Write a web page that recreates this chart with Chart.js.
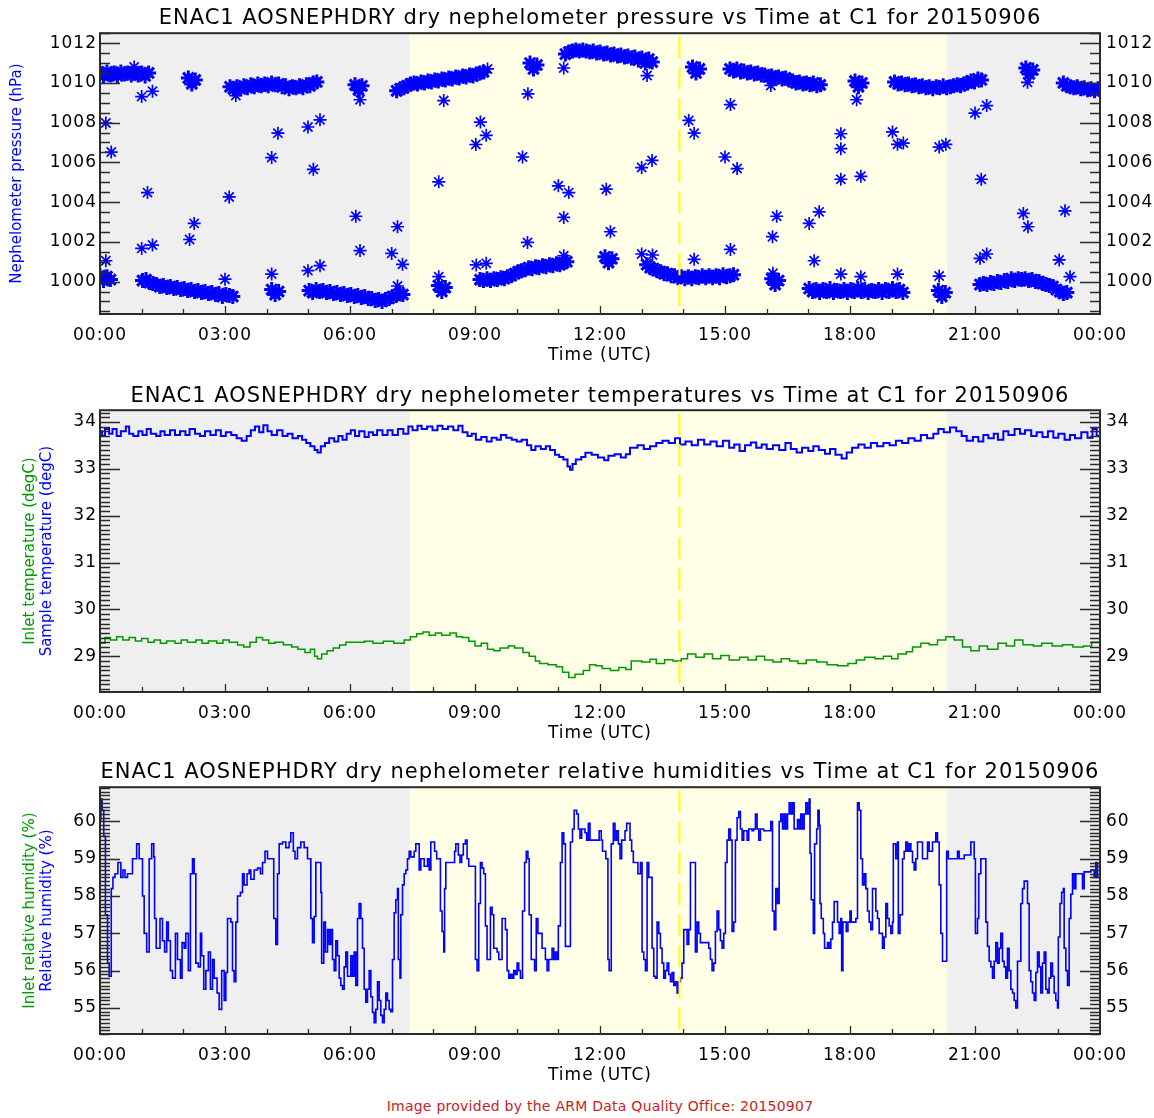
<!DOCTYPE html>
<html>
<head>
<meta charset="utf-8">
<script src="https://cdn.jsdelivr.net/npm/chart.js@4.4.1/dist/chart.umd.min.js"></script>
<style>
  body { margin: 0; background: #fff; width: 1154px; height: 1118px; position: relative; overflow: hidden; }
  canvas { position: absolute; left: 0; }
  #footer { position: absolute; left: 100px; width: 1000px; top: 1098px; text-align: center; letter-spacing: 0.25px;
            font: 14px 'DejaVu Sans', sans-serif; color: #c82222; }
</style>
</head>
<body>
<canvas id="pressChart" width="1154" height="372" style="top:0px"></canvas>
<canvas id="tempChart" width="1154" height="373" style="top:377px"></canvas>
<canvas id="rhChart" width="1154" height="338" style="top:754px"></canvas>
<div id="footer">Image provided by the ARM Data Quality Office: 20150907</div>
<script>
const FONT = "'DejaVu Sans', sans-serif";

// shading: night (grey) / daylight (yellow), dashed line at local solar noon
const sunrise = 7.43, sunset = 20.33, solarNoon = 13.9;
const timeTickLabels = ['00:00', '03:00', '06:00', '09:00', '12:00', '15:00', '18:00', '21:00', '00:00'];

// ---- nephelometer pressure (hPa), 5-minute samples in runs ----
const SAMPLE_STEP = 5 / 60;
const upperStarts = [0.00, 2.12, 3.12, 6.12, 7.12, 10.32, 11.17, 14.22, 15.12, 18.12, 19.07, 22.22, 23.12];
const upperRuns = [
  [1010.5, 1010.35, 1010.55, 1010.4, 1010.5, 1010.35, 1010.55, 1010.45, 1010.5, 1010.4, 1010.55, 1010.4, 1010.5, 1010.35, 1010.5],
  [1010.25, 1009.95, 1010.15],
  [1009.8, 1009.7, 1009.8, 1009.7, 1009.85, 1009.75, 1009.9, 1009.8, 1009.95, 1009.85, 1009.95, 1009.85, 1010.0, 1009.9, 1009.95, 1009.8, 1009.85, 1009.7, 1009.8, 1009.75, 1009.85, 1009.75, 1009.9, 1009.85, 1010.0, 1010.05],
  [1009.9, 1009.65, 1009.85],
  [1009.6, 1009.7, 1009.75, 1009.85, 1009.95, 1010.0, 1009.95, 1010.05, 1010.0, 1010.1, 1010.05, 1010.15, 1010.1, 1010.2, 1010.15, 1010.25, 1010.2, 1010.3, 1010.25, 1010.35, 1010.3, 1010.4, 1010.35, 1010.45, 1010.5, 1010.55],
  [1011.0, 1010.7, 1010.9],
  [1011.45, 1011.55, 1011.6, 1011.65, 1011.6, 1011.65, 1011.6, 1011.55, 1011.6, 1011.5, 1011.55, 1011.45, 1011.5, 1011.4, 1011.45, 1011.35, 1011.4, 1011.3, 1011.35, 1011.25, 1011.3, 1011.15, 1011.25, 1011.0, 1011.2, 1011.05],
  [1010.8, 1010.5, 1010.7],
  [1010.7, 1010.6, 1010.7, 1010.55, 1010.6, 1010.5, 1010.55, 1010.45, 1010.5, 1010.4, 1010.4, 1010.3, 1010.35, 1010.25, 1010.3, 1010.2, 1010.25, 1010.15, 1010.1, 1010.0, 1010.05, 1009.95, 1010.0, 1009.9, 1010.0, 1009.85, 1009.9],
  [1010.1, 1009.8, 1010.0],
  [1010.05, 1009.95, 1010.0, 1009.9, 1009.95, 1009.85, 1009.9, 1009.8, 1009.85, 1009.75, 1009.8, 1009.7, 1009.8, 1009.75, 1009.85, 1009.75, 1009.8, 1009.85, 1009.9, 1009.85, 1009.95, 1010.0, 1010.1, 1010.05, 1010.2, 1010.15],
  [1010.75, 1010.45, 1010.65],
  [1010.0, 1009.85, 1009.8, 1009.75, 1009.8, 1009.7, 1009.75, 1009.65, 1009.7, 1009.6, 1009.7, 1009.65]
];
const lowerStarts = [0.00, 1.02, 4.12, 5.02, 8.12, 9.12, 12.12, 13.12, 16.12, 17.02, 20.12, 21.12];
const lowerRuns = [
  [1000.3, 1000.05, 1000.25, 1000.1],
  [1000.05, 1000.1, 999.95, 999.9, 999.85, 999.75, 999.8, 999.7, 999.75, 999.65, 999.7, 999.6, 999.65, 999.55, 999.6, 999.5, 999.55, 999.45, 999.5, 999.4, 999.45, 999.35, 999.4, 999.25, 999.35, 999.3, 999.25],
  [999.6, 999.35, 999.5],
  [999.55, 999.45, 999.6, 999.5, 999.55, 999.45, 999.5, 999.4, 999.45, 999.35, 999.4, 999.3, 999.35, 999.25, 999.3, 999.2, 999.25, 999.15, 999.15, 999.05, 999.1, 999.0, 999.1, 999.15, 999.25, 999.3, 999.4, 999.35],
  [999.8, 999.5, 999.7],
  [1000.1, 1000.05, 1000.15, 1000.05, 1000.15, 1000.1, 1000.2, 1000.15, 1000.25, 1000.3, 1000.4, 1000.5, 1000.55, 1000.6, 1000.7, 1000.65, 1000.75, 1000.7, 1000.8, 1000.75, 1000.85, 1000.8, 1000.9, 1000.85, 1000.95, 1001.0],
  [1001.25, 1000.95, 1001.15],
  [1000.85, 1000.7, 1000.65, 1000.55, 1000.5, 1000.4, 1000.4, 1000.3, 1000.3, 1000.2, 1000.25, 1000.15, 1000.25, 1000.15, 1000.25, 1000.2, 1000.3, 1000.2, 1000.3, 1000.2, 1000.3, 1000.2, 1000.35, 1000.25, 1000.3, 1000.35],
  [1000.15, 999.85, 1000.05],
  [999.65, 999.5, 999.6, 999.45, 999.6, 999.5, 999.65, 999.45, 999.55, 999.5, 999.6, 999.45, 999.6, 999.5, 999.65, 999.5, 999.6, 999.45, 999.55, 999.5, 999.6, 999.45, 999.6, 999.5, 999.65, 999.5, 999.6, 999.45],
  [999.55, 999.25, 999.45],
  [999.85, 999.9, 999.85, 999.95, 999.9, 1000.0, 999.95, 1000.05, 1000.0, 1000.15, 1000.05, 1000.15, 1000.1, 1000.15, 1000.05, 1000.1, 1000.0, 1000.0, 999.9, 999.85, 999.8, 999.75, 999.6, 999.5, 999.4, 999.45]
];
// isolated readings between the two levels [hour, hPa]
const pressureSpikes = [
  [0.14, 1007.98], [0.27, 1006.52], [0.14, 1001.05], [0.82, 1010.8], [1.0, 1009.31], [1.26, 1009.58], [1.14, 1004.48],
  [1.0, 1001.67], [1.26, 1001.84], [2.15, 1002.12], [2.26, 1002.93], [3.1, 1004.26], [3.26, 1009.36], [3.0, 1000.12],
  [4.12, 1006.24], [4.27, 1007.47], [4.12, 1000.38], [4.99, 1007.78], [5.28, 1008.14], [5.12, 1005.65], [4.99, 1000.55],
  [5.28, 1000.8], [6.14, 1003.29], [6.24, 1001.56], [6.24, 1009.15], [7.0, 1001.42], [7.14, 1002.76], [7.26, 1000.87],
  [7.14, 999.78], [8.13, 1005.02], [8.13, 1000.25], [8.25, 1009.11], [9.13, 1008.03], [9.27, 1007.36], [9.02, 1006.9],
  [9.03, 1000.84], [9.27, 1000.92], [9.3, 1010.7], [10.27, 1009.45], [10.14, 1006.27], [10.26, 1001.97], [11.13, 1010.75],
  [11.0, 1004.82], [11.25, 1004.48], [11.13, 1003.23], [11.13, 1001.3], [12.15, 1004.65], [12.25, 1002.51], [13.13, 1010.37],
  [13.0, 1005.74], [13.25, 1006.1], [13.0, 1001.39], [13.26, 1001.34], [14.13, 1008.11], [14.26, 1007.47], [14.26, 1001.12],
  [15.13, 1008.91], [15.0, 1006.27], [15.29, 1005.69], [15.13, 1001.62], [16.1, 1009.87], [16.24, 1003.29], [16.14, 1002.26],
  [16.15, 1000.42], [17.14, 1001.05], [17.02, 1002.93], [17.26, 1003.51], [17.78, 1007.44], [17.78, 1006.69], [17.78, 1005.15],
  [17.78, 1000.38], [18.26, 1005.3], [18.26, 1000.25], [18.16, 1009.15], [19.02, 1007.53], [19.14, 1006.91], [19.28, 1006.97],
  [19.14, 1000.38], [20.14, 1006.77], [20.3, 1006.91], [20.14, 1000.28], [21.0, 1008.48], [21.28, 1008.86], [21.15, 1005.15],
  [21.12, 1001.17], [21.28, 1001.39], [22.16, 1003.43], [22.27, 1002.76], [22.26, 1010.03], [23.02, 1001.09], [23.16, 1003.56],
  [23.28, 1000.25]
];

// ---- temperatures (degC), [hour, value] step points ----
const sampleTemp = [
  [0.00, 33.80], [0.05, 33.70], [0.12, 33.85], [0.22, 33.75], [0.30, 33.85], [0.40, 33.70], [0.50, 33.80], [0.62, 33.90], [0.70, 33.75],
  [0.80, 33.70], [0.92, 33.80], [1.02, 33.72], [1.12, 33.85], [1.22, 33.75], [1.35, 33.70], [1.45, 33.80], [1.55, 33.72], [1.68, 33.82],
  [1.80, 33.72], [1.92, 33.80], [2.05, 33.72], [2.15, 33.85], [2.28, 33.75], [2.40, 33.70], [2.52, 33.80], [2.65, 33.72], [2.78, 33.82],
  [2.90, 33.70], [3.02, 33.78], [3.15, 33.72], [3.28, 33.65], [3.40, 33.60], [3.52, 33.70], [3.62, 33.82], [3.72, 33.90], [3.82, 33.78],
  [3.92, 33.93], [4.02, 33.80], [4.12, 33.72], [4.25, 33.82], [4.38, 33.70], [4.50, 33.75], [4.62, 33.65], [4.75, 33.70], [4.85, 33.62],
  [4.95, 33.55], [5.05, 33.48], [5.15, 33.40], [5.22, 33.35], [5.30, 33.48], [5.40, 33.55], [5.50, 33.65], [5.62, 33.58], [5.72, 33.70],
  [5.82, 33.62], [5.92, 33.75], [6.02, 33.82], [6.12, 33.70], [6.22, 33.80], [6.35, 33.68], [6.45, 33.78], [6.55, 33.72], [6.65, 33.82],
  [6.78, 33.72], [6.90, 33.82], [7.02, 33.72], [7.15, 33.85], [7.28, 33.75], [7.40, 33.90], [7.50, 33.82], [7.62, 33.92], [7.72, 33.85],
  [7.85, 33.90], [7.98, 33.82], [8.10, 33.92], [8.22, 33.85], [8.35, 33.90], [8.48, 33.82], [8.60, 33.92], [8.70, 33.78], [8.82, 33.70],
  [8.92, 33.75], [9.02, 33.62], [9.15, 33.68], [9.28, 33.58], [9.40, 33.66], [9.52, 33.62], [9.62, 33.72], [9.75, 33.66], [9.88, 33.62],
  [10.00, 33.58], [10.12, 33.62], [10.25, 33.50], [10.35, 33.40], [10.45, 33.48], [10.58, 33.42], [10.70, 33.48], [10.80, 33.40],
  [10.92, 33.30], [11.02, 33.25], [11.12, 33.20], [11.22, 33.05], [11.28, 32.98], [11.34, 33.10], [11.42, 33.20], [11.55, 33.25],
  [11.65, 33.34], [11.80, 33.30], [11.95, 33.24], [12.10, 33.18], [12.20, 33.28], [12.35, 33.31], [12.50, 33.24], [12.62, 33.31],
  [12.72, 33.45], [12.90, 33.50], [13.05, 33.42], [13.20, 33.48], [13.35, 33.55], [13.50, 33.60], [13.65, 33.55], [13.80, 33.65],
  [13.92, 33.52], [14.05, 33.58], [14.20, 33.50], [14.35, 33.62], [14.50, 33.52], [14.65, 33.58], [14.80, 33.48], [14.95, 33.60],
  [15.10, 33.45], [15.22, 33.52], [15.35, 33.38], [15.48, 33.50], [15.62, 33.56], [15.75, 33.45], [15.88, 33.52], [16.00, 33.42],
  [16.15, 33.50], [16.30, 33.40], [16.45, 33.55], [16.58, 33.42], [16.72, 33.35], [16.85, 33.45], [17.00, 33.38], [17.12, 33.48],
  [17.25, 33.40], [17.40, 33.32], [17.52, 33.42], [17.65, 33.30], [17.80, 33.22], [17.92, 33.35], [18.05, 33.45], [18.20, 33.52],
  [18.35, 33.45], [18.50, 33.55], [18.65, 33.48], [18.80, 33.55], [18.95, 33.50], [19.10, 33.60], [19.25, 33.55], [19.40, 33.65],
  [19.55, 33.60], [19.70, 33.72], [19.85, 33.65], [20.00, 33.75], [20.12, 33.85], [20.25, 33.78], [20.40, 33.88], [20.55, 33.80],
  [20.68, 33.70], [20.80, 33.60], [20.95, 33.68], [21.08, 33.58], [21.20, 33.72], [21.32, 33.65], [21.45, 33.75], [21.55, 33.62],
  [21.68, 33.80], [21.80, 33.72], [21.95, 33.85], [22.08, 33.75], [22.20, 33.82], [22.35, 33.70], [22.48, 33.78], [22.62, 33.68],
  [22.75, 33.80], [22.88, 33.66], [23.00, 33.75], [23.15, 33.62], [23.28, 33.72], [23.40, 33.65], [23.55, 33.78], [23.70, 33.66],
  [23.82, 33.85], [23.92, 33.70], [24.00, 33.72]
];
const inletTemp = [
  [0.00, 29.28], [0.12, 29.40], [0.25, 29.35], [0.40, 29.42], [0.55, 29.35], [0.70, 29.40], [0.85, 29.33], [1.00, 29.38], [1.15, 29.30],
  [1.30, 29.35], [1.45, 29.28], [1.60, 29.33], [1.80, 29.28], [1.95, 29.35], [2.10, 29.30], [2.30, 29.35], [2.45, 29.28], [2.60, 29.33],
  [2.80, 29.28], [2.95, 29.35], [3.10, 29.30], [3.30, 29.24], [3.45, 29.20], [3.60, 29.30], [3.75, 29.40], [3.90, 29.35], [4.05, 29.28],
  [4.20, 29.30], [4.40, 29.25], [4.60, 29.20], [4.75, 29.15], [4.92, 29.08], [5.05, 29.15], [5.15, 29.00], [5.22, 28.95], [5.32, 29.05],
  [5.45, 29.12], [5.60, 29.18], [5.75, 29.24], [5.90, 29.30], [6.10, 29.30], [6.35, 29.32], [6.55, 29.28], [6.80, 29.32], [7.05, 29.28],
  [7.30, 29.35], [7.45, 29.42], [7.60, 29.48], [7.75, 29.52], [7.90, 29.45], [8.05, 29.50], [8.20, 29.45], [8.40, 29.50], [8.55, 29.42],
  [8.70, 29.40], [8.85, 29.32], [9.00, 29.22], [9.15, 29.28], [9.30, 29.15], [9.45, 29.12], [9.60, 29.18], [9.80, 29.22], [9.95, 29.18],
  [10.15, 29.08], [10.30, 29.00], [10.45, 28.90], [10.55, 28.85], [10.75, 28.82], [10.95, 28.78], [11.10, 28.66], [11.25, 28.55],
  [11.40, 28.62], [11.60, 28.70], [11.75, 28.82], [11.90, 28.80], [12.05, 28.74], [12.25, 28.70], [12.45, 28.76], [12.62, 28.72],
  [12.75, 28.90], [13.00, 28.88], [13.20, 28.94], [13.35, 28.85], [13.55, 28.93], [13.75, 28.90], [13.95, 28.95], [14.10, 29.05],
  [14.30, 28.98], [14.50, 29.05], [14.70, 28.95], [14.90, 29.02], [15.10, 28.92], [15.35, 28.98], [15.55, 28.92], [15.75, 29.00],
  [15.95, 28.92], [16.15, 28.88], [16.35, 28.95], [16.55, 28.90], [16.75, 28.85], [16.95, 28.92], [17.20, 28.88], [17.45, 28.82],
  [17.70, 28.80], [17.95, 28.85], [18.15, 28.92], [18.35, 28.98], [18.60, 28.95], [18.80, 29.00], [19.00, 28.95], [19.15, 29.05],
  [19.35, 29.10], [19.50, 29.20], [19.70, 29.28], [19.90, 29.25], [20.10, 29.35], [20.30, 29.42], [20.50, 29.35], [20.70, 29.20],
  [20.90, 29.12], [21.10, 29.22], [21.30, 29.15], [21.55, 29.28], [21.75, 29.22], [21.95, 29.35], [22.15, 29.25], [22.40, 29.22],
  [22.60, 29.28], [22.85, 29.22], [23.10, 29.25], [23.35, 29.20], [23.60, 29.22], [23.80, 29.30], [24.00, 29.32]
];

// ---- relative humidity (%), [hour, value] step points ----
const sampleRH = [
  [0.00, 60.0], [0.02, 60.6], [0.05, 60.3], [0.09, 59.6], [0.13, 57.5], [0.18, 56.2], [0.22, 55.85], [0.27, 58.2], [0.31, 58.5], [0.36, 58.6],
  [0.43, 58.9], [0.50, 58.5], [0.55, 58.7], [0.60, 58.5], [0.66, 58.6], [0.78, 59.0], [0.88, 59.4], [0.94, 59.0], [1.02, 58.0], [1.06, 57.0],
  [1.12, 56.5], [1.18, 59.0], [1.24, 59.4], [1.29, 59.05], [1.31, 57.4], [1.35, 56.6], [1.44, 57.4], [1.50, 56.8], [1.55, 56.5], [1.60, 57.3],
  [1.64, 56.8], [1.69, 56.0], [1.74, 55.8], [1.81, 57.0], [1.86, 56.3], [1.93, 55.8], [1.97, 56.75], [2.02, 56.6], [2.06, 57.0], [2.12, 56.0],
  [2.17, 58.6], [2.22, 59.0], [2.26, 58.6], [2.30, 56.2], [2.36, 56.1], [2.41, 57.0], [2.44, 56.4], [2.49, 55.5], [2.54, 56.0], [2.60, 56.5],
  [2.65, 55.5], [2.70, 56.3], [2.74, 55.8], [2.81, 55.4], [2.86, 54.96], [2.92, 56.0], [2.98, 55.2], [3.02, 55.95], [3.06, 57.4], [3.14, 57.3],
  [3.18, 56.0], [3.22, 55.7], [3.26, 57.3], [3.30, 58.0], [3.37, 58.1], [3.42, 58.6], [3.46, 58.3], [3.53, 58.6], [3.58, 58.7], [3.62, 58.45],
  [3.70, 58.7], [3.78, 58.75], [3.85, 58.6], [3.90, 58.9], [3.96, 59.2], [4.02, 59.0], [4.17, 57.4], [4.22, 56.7], [4.26, 58.6], [4.30, 59.4],
  [4.38, 59.45], [4.46, 59.3], [4.54, 59.45], [4.58, 59.7], [4.64, 59.2], [4.68, 59.0], [4.74, 59.3], [4.82, 59.45], [4.90, 59.3], [4.98, 59.0],
  [5.06, 57.4], [5.10, 56.75], [5.14, 57.45], [5.18, 58.9], [5.30, 58.1], [5.32, 56.2], [5.37, 57.3], [5.41, 56.5], [5.46, 57.1], [5.50, 56.7],
  [5.54, 57.1], [5.58, 56.3], [5.62, 56.0], [5.66, 56.8], [5.70, 56.4], [5.74, 55.8], [5.78, 55.6], [5.82, 55.5], [5.86, 56.1], [5.90, 56.5],
  [5.94, 55.85], [6.02, 56.4], [6.06, 55.85], [6.10, 56.5], [6.14, 55.6], [6.18, 57.4], [6.22, 57.8], [6.26, 57.4], [6.30, 56.6], [6.34, 55.5],
  [6.38, 55.15], [6.42, 55.5], [6.46, 56.0], [6.50, 55.3], [6.54, 54.88], [6.58, 54.6], [6.62, 54.96], [6.66, 55.7], [6.70, 55.2], [6.74, 54.8],
  [6.78, 54.6], [6.82, 54.96], [6.86, 55.4], [6.90, 55.2], [6.94, 54.96], [6.98, 54.9], [7.02, 56.3], [7.06, 57.55], [7.10, 57.9], [7.14, 58.2],
  [7.16, 56.3], [7.20, 55.8], [7.22, 57.5], [7.26, 58.3], [7.30, 58.6], [7.34, 58.7], [7.38, 59.0], [7.42, 59.2], [7.46, 59.05], [7.54, 59.2],
  [7.58, 59.4], [7.66, 58.7], [7.70, 59.0], [7.78, 58.8], [7.86, 59.0], [7.90, 58.7], [7.94, 59.45],
  [8.03, 59.2], [8.08, 59.0], [8.17, 57.6], [8.21, 57.05], [8.25, 56.5], [8.27, 58.2], [8.30, 58.9], [8.51, 59.2], [8.54, 59.4], [8.60, 59.1],
  [8.64, 58.9], [8.68, 59.1], [8.72, 59.4], [8.77, 59.5], [8.81, 59.0], [8.85, 58.8], [9.01, 56.3], [9.05, 56.0], [9.09, 57.8], [9.13, 58.9],
  [9.17, 58.75], [9.21, 58.6], [9.25, 57.2], [9.29, 56.3], [9.37, 57.7], [9.41, 57.5], [9.45, 56.6], [9.53, 56.5], [9.57, 56.3], [9.65, 57.4],
  [9.73, 57.1], [9.77, 56.0], [9.81, 55.8], [9.85, 55.9], [9.89, 55.8], [9.93, 56.0], [9.97, 55.9], [10.01, 56.2], [10.05, 56.0], [10.09, 55.8],
  [10.14, 57.6], [10.19, 58.9], [10.23, 59.2], [10.27, 59.0], [10.30, 57.5], [10.35, 56.3], [10.43, 56.0], [10.47, 57.4], [10.51, 57.0],
  [10.61, 56.6], [10.69, 56.3], [10.73, 56.0], [10.77, 56.3], [10.85, 56.6], [10.89, 56.3], [10.93, 56.5], [10.97, 56.3], [11.00, 57.2],
  [11.05, 58.9], [11.09, 59.7], [11.13, 59.4], [11.17, 56.65], [11.29, 59.45], [11.34, 59.8], [11.38, 60.3], [11.44, 60.2], [11.48, 59.8],
  [11.52, 59.55], [11.56, 59.8], [11.64, 59.7], [11.68, 59.5], [11.72, 59.95], [11.76, 59.5], [11.98, 59.75], [12.03, 59.5], [12.06, 59.2],
  [12.14, 59.0], [12.19, 56.3], [12.22, 56.0], [12.27, 59.4], [12.32, 59.95], [12.36, 59.5], [12.40, 59.75], [12.44, 59.4], [12.48, 59.0],
  [12.52, 59.5], [12.60, 59.75], [12.64, 59.95], [12.72, 59.5], [12.76, 59.2], [12.80, 58.9], [12.91, 58.6], [12.97, 58.9], [13.01, 56.5],
  [13.05, 56.3], [13.09, 56.0], [13.13, 58.9], [13.17, 58.5], [13.25, 56.6], [13.29, 55.85], [13.33, 55.8], [13.37, 57.3], [13.41, 57.0],
  [13.45, 56.6], [13.49, 56.2], [13.53, 55.8], [13.57, 56.0], [13.61, 56.2], [13.65, 55.9], [13.69, 55.7], [13.73, 55.95], [13.77, 55.6],
  [13.81, 55.7], [13.85, 55.4], [13.89, 55.7], [13.93, 55.8], [13.97, 56.2], [14.01, 57.1], [14.09, 56.7], [14.13, 57.1], [14.17, 58.9],
  [14.29, 56.5], [14.33, 57.3], [14.37, 57.0], [14.41, 56.75], [14.61, 56.6], [14.65, 56.3], [14.69, 56.0], [14.73, 56.2], [14.77, 57.05],
  [14.81, 57.6], [14.85, 57.1], [14.89, 56.8], [14.93, 56.6], [14.97, 57.0], [15.01, 58.9], [15.05, 59.5], [15.09, 59.8], [15.13, 59.5],
  [15.17, 57.05], [15.21, 57.3], [15.25, 59.5], [15.29, 60.1], [15.33, 60.27], [15.37, 59.8], [15.41, 59.5], [15.45, 59.75], [15.53, 59.5],
  [15.57, 59.8], [15.65, 59.75], [15.69, 59.8], [15.73, 60.2], [15.77, 59.8], [15.81, 59.5], [15.85, 59.8], [15.93, 59.75], [16.05, 59.75],
  [16.10, 60.0], [16.14, 57.6], [16.18, 57.1], [16.22, 58.2], [16.26, 57.8], [16.30, 60.0], [16.34, 60.2], [16.38, 59.8], [16.42, 60.2],
  [16.46, 59.8], [16.50, 60.2], [16.54, 60.5], [16.58, 60.2], [16.62, 60.5], [16.66, 59.8], [16.74, 60.05], [16.78, 59.8], [16.82, 60.2],
  [16.86, 59.8], [16.90, 60.2], [16.94, 60.5], [16.98, 60.2], [17.02, 60.6], [17.04, 59.15], [17.07, 57.9], [17.12, 57.0], [17.15, 59.4],
  [17.20, 59.8], [17.23, 60.3], [17.26, 59.9], [17.28, 57.8], [17.31, 57.4], [17.36, 57.0], [17.39, 56.6], [17.46, 56.75], [17.50, 56.6],
  [17.54, 56.85], [17.58, 57.3], [17.62, 57.85], [17.70, 57.3], [17.74, 57.0], [17.78, 57.4], [17.80, 56.0], [17.83, 57.3], [17.91, 57.05],
  [17.95, 57.3], [18.00, 57.6], [18.03, 57.3], [18.14, 57.4], [18.18, 60.5], [18.22, 60.3], [18.26, 59.0], [18.30, 58.3], [18.34, 58.6],
  [18.38, 58.2], [18.42, 57.6], [18.46, 57.3], [18.50, 57.1], [18.54, 58.2], [18.62, 57.6], [18.66, 57.4], [18.70, 57.0], [18.78, 56.6],
  [18.82, 56.9], [18.86, 57.8], [18.90, 57.4], [18.94, 57.2], [18.98, 57.0], [19.02, 57.3], [19.04, 59.4], [19.10, 59.0], [19.14, 59.45],
  [19.16, 57.0], [19.20, 57.5], [19.26, 59.0], [19.30, 59.2], [19.34, 59.45], [19.38, 59.2], [19.42, 59.4], [19.46, 59.2], [19.50, 58.9],
  [19.54, 58.7], [19.58, 59.0], [19.62, 59.45], [19.74, 59.0], [19.86, 59.45], [19.90, 59.2], [19.98, 59.45], [20.06, 59.7], [20.10, 59.45],
  [20.14, 58.3], [20.18, 57.0], [20.22, 56.25], [20.32, 59.2], [20.36, 59.0], [20.58, 59.2], [20.62, 59.0], [20.74, 59.1], [20.86, 59.1],
  [20.90, 59.45], [20.98, 59.0], [21.01, 57.0], [21.06, 57.4], [21.09, 58.6], [21.14, 59.0], [21.26, 57.3], [21.30, 56.65], [21.34, 56.25],
  [21.38, 56.1], [21.42, 55.8], [21.46, 56.25], [21.50, 56.75], [21.54, 56.2], [21.58, 56.6], [21.62, 57.0], [21.66, 56.25], [21.70, 56.1],
  [21.74, 55.8], [21.78, 56.6], [21.82, 56.0], [21.86, 55.5], [21.90, 55.4], [21.94, 55.2], [21.98, 55.0], [22.02, 56.25], [22.10, 57.8],
  [22.14, 58.2], [22.18, 58.4], [22.26, 57.8], [22.30, 56.0], [22.34, 55.7], [22.38, 55.4], [22.42, 55.2], [22.46, 55.95], [22.50, 56.5],
  [22.54, 56.1], [22.58, 55.4], [22.62, 56.2], [22.66, 56.5], [22.70, 55.5], [22.74, 55.4], [22.78, 55.8], [22.82, 56.2], [22.86, 55.85],
  [22.90, 55.4], [22.94, 55.2], [22.98, 55.0], [23.00, 56.9], [23.04, 57.8], [23.08, 58.1], [23.12, 58.2], [23.14, 56.6], [23.18, 56.0],
  [23.22, 55.6], [23.26, 57.4], [23.30, 58.05], [23.34, 58.6], [23.38, 58.2], [23.42, 58.6], [23.58, 58.2], [23.62, 58.65], [23.78, 58.7],
  [23.86, 58.5], [23.90, 58.9], [23.94, 58.5], [24.00, 58.6]
];

const BLUE = '#0000ff', GREEN = '#009900', INK = '#2a2a2a';

function runPoints(starts, runs) {
  const pts = [];
  runs.forEach((vals, i) => vals.forEach((v, j) => pts.push({ x: starts[i] + j * SAMPLE_STEP, y: v })));
  return pts;
}
const toXY = pairs => pairs.map(([x, y]) => ({ x, y }));

// the IDL plot font is widely tracked; widen every canvas label a little
const spacingPlugin = {
  id: 'spacing',
  beforeDraw(chart) { chart.ctx.letterSpacing = '1px'; }
};

// grey night / yellow day behind the data
const backdropPlugin = {
  id: 'backdrop',
  beforeDatasetsDraw(chart) {
    const { ctx, chartArea: a, scales: { x } } = chart;
    ctx.save();
    ctx.fillStyle = '#efefef';
    ctx.fillRect(a.left, a.top, a.width, a.height);
    const x0 = x.getPixelForValue(sunrise), x1 = x.getPixelForValue(sunset);
    ctx.fillStyle = '#fffee6';
    ctx.fillRect(x0, a.top, x1 - x0, a.height);
    ctx.restore();
  }
};

// IDL-style frame: inward major/minor ticks on both y sides, hour ticks on the bottom,
// the dashed yellow solar-noon marker, and the coloured rotated axis labels.
const framePlugin = {
  id: 'frame',
  afterDatasetsDraw(chart, args, o) {
    const { ctx, chartArea: a, scales: { x, y } } = chart;
    ctx.save();
    const xn = Math.round(x.getPixelForValue(solarNoon)) + 0.5;
    ctx.strokeStyle = '#ffff00';
    ctx.lineWidth = 2;
    ctx.setLineDash([22, 9]);
    ctx.beginPath(); ctx.moveTo(xn, a.top + 3); ctx.lineTo(xn, a.bottom - 2); ctx.stroke();
    ctx.setLineDash([]);

    ctx.strokeStyle = INK;
    ctx.lineWidth = 1.3;
    ctx.beginPath();
    const first = Math.ceil(y.min / o.minor - 1e-6), last = Math.floor(y.max / o.minor + 1e-6);
    for (let k = first; k <= last; k++) {
      const v = k * o.minor;
      const isMajor = Math.abs(v / o.major - Math.round(v / o.major)) < 1e-6;
      const len = isMajor ? 20 : 10;
      const py = Math.round(y.getPixelForValue(v)) + 0.5;
      ctx.moveTo(a.left, py); ctx.lineTo(a.left + len, py);
      ctx.moveTo(a.right, py); ctx.lineTo(a.right - len, py);
    }
    for (let h = 1; h < 24; h++) {
      const px = Math.round(x.getPixelForValue(h)) + 0.5;
      ctx.moveTo(px, a.bottom); ctx.lineTo(px, a.bottom - (h % 3 === 0 ? 8 : 5));
    }
    ctx.stroke();
    ctx.lineWidth = 2;
    ctx.strokeRect(a.left, a.top, a.width, a.height);
    ctx.restore();
  },
  afterDraw(chart, args, o) {
    const { ctx, chartArea: a } = chart;
    const cy = (a.top + a.bottom) / 2;
    o.labels.forEach(l => {
      ctx.save();
      ctx.letterSpacing = '0px';
      ctx.translate(l.x, cy);
      ctx.rotate(-Math.PI / 2);
      ctx.font = `15px ${FONT}`;
      ctx.fillStyle = l.color;
      ctx.textAlign = 'center';
      ctx.textBaseline = 'middle';
      ctx.fillText(l.text, 0, 0);
      ctx.restore();
    });
  }
};

function panelOptions(title, yMin, yMax, yStep, minor, labels, titleTop) {
  const tickFont = { family: FONT, size: 17 };
  const yAxis = (pos, w) => ({
    type: 'linear', position: pos, min: yMin, max: yMax,
    afterFit(s) { s.width = w; },
    grid: { display: false, drawTicks: false }, border: { display: false },
    ticks: { stepSize: yStep, includeBounds: false, padding: pos === 'left' ? 3 : 6, color: '#000', font: tickFont, callback: v => v }
  });
  return {
    responsive: false, animation: false, events: [],
    layout: { padding: 0, autoPadding: false },
    plugins: {
      legend: { display: false }, tooltip: { enabled: false },
      title: { display: true, text: title, fullSize: false, color: '#000', font: { family: FONT, size: 21, weight: 'normal' }, padding: { top: titleTop, bottom: 8 - titleTop } },
      frame: { major: yStep, minor, labels }
    },
    scales: {
      x: {
        type: 'linear', min: 0, max: 24,
        afterFit(s) { s.height = 58; },
        grid: { display: false, drawTicks: false }, border: { display: false },
        ticks: { stepSize: 3, includeBounds: false, padding: 11, maxRotation: 0, autoSkip: false, color: '#000', font: tickFont, callback: v => timeTickLabels[v / 3] },
        title: { display: true, text: 'Time (UTC)', color: '#000', font: { family: FONT, size: 17 }, padding: { top: 0, bottom: 6 } }
      },
      y: yAxis('left', 100),
      y2: yAxis('right', 54)
    }
  };
}

const plugins = [spacingPlugin, backdropPlugin, framePlugin];

new Chart(document.getElementById('pressChart'), {
  type: 'scatter',
  data: {
    datasets: [
      { data: [...runPoints(upperStarts, upperRuns), ...runPoints(lowerStarts, lowerRuns)],
        pointStyle: 'star', pointRadius: 7.5, borderColor: BLUE, backgroundColor: BLUE, borderWidth: 3, clip: 0 },
      { data: toXY(pressureSpikes),
        pointStyle: 'star', pointRadius: 6.5, borderColor: BLUE, backgroundColor: BLUE, borderWidth: 1.7, clip: 0 }
    ]
  },
  options: panelOptions('ENAC1 AOSNEPHDRY dry nephelometer pressure vs Time at C1 for 20150906',
    998.37, 1012.5, 2, 0.5, [{ text: 'Nephelometer pressure (hPa)', color: BLUE, x: 17 }], 6),
  plugins
});

new Chart(document.getElementById('tempChart'), {
  type: 'line',
  data: {
    datasets: [
      { data: toXY(sampleTemp), stepped: true, borderColor: BLUE, borderWidth: 2, pointRadius: 0, clip: 0 },
      { data: toXY(inletTemp), stepped: true, borderColor: GREEN, borderWidth: 1.5, pointRadius: 0, clip: 0 }
    ]
  },
  options: panelOptions('ENAC1 AOSNEPHDRY dry nephelometer temperatures vs Time at C1 for 20150906',
    28.24, 34.25, 1, 0.1, [{ text: 'Inlet temperature (degC)', color: GREEN, x: 30 }, { text: 'Sample temperature (degC)', color: BLUE, x: 47 }], 7),
  plugins
});

new Chart(document.getElementById('rhChart'), {
  type: 'line',
  data: {
    datasets: [
      { data: toXY(sampleRH), stepped: true, borderColor: BLUE, borderWidth: 1.6, pointRadius: 0, clip: 0 }
    ]
  },
  options: panelOptions('ENAC1 AOSNEPHDRY dry nephelometer relative humidities vs Time at C1 for 20150906',
    54.30, 60.92, 1, 0.1, [{ text: 'Inlet relative humidity (%)', color: GREEN, x: 30 }, { text: 'Relative humidity (%)', color: BLUE, x: 47 }], 6),
  plugins
});
</script>
</body>
</html>
